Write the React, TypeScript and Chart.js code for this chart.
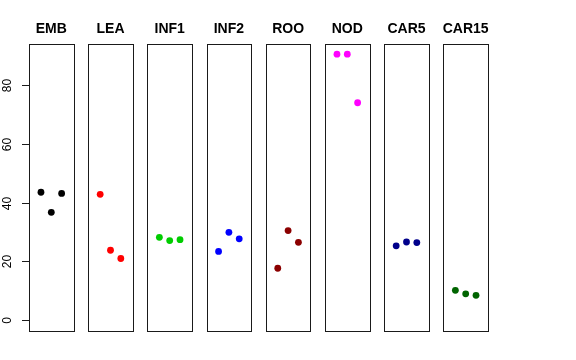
import React, { useEffect, useRef } from "react";
import { Chart, registerables } from "chart.js";

Chart.register(...registerables);

// ---- data ----
const panelNames = ["EMB", "LEA", "INF1", "INF2", "ROO", "NOD", "CAR5", "CAR15"];
const embValues = [43.5, 36.7, 43.1];
const leaValues = [42.8, 23.8, 21.0];
const inf1Values = [28.2, 27.1, 27.4];
const inf2Values = [23.4, 29.9, 27.7];
const rooValues = [17.7, 30.5, 26.5];
const nodValues = [90.4, 90.4, 73.9];
const car5Values = [25.3, 26.6, 26.4];
const car15Values = [10.2, 9.0, 8.5];
const panelValues = [embValues, leaValues, inf1Values, inf2Values, rooValues, nodValues, car5Values, car15Values];
const panelColors = ["#000000", "#FF0000", "#00CD00", "#0000FF", "#8B0000", "#FF00FF", "#00008B", "#006400"];
const yTickValues = [0, 20, 40, 60, 80];
const replicateX = [1, 2, 3];

// ---- layout ----
const W = 576;
const H = 360;
const PANEL_LEFT0 = 29;
const PANEL_STEP = 59.2;
const PANEL_WIDTH = 44.6;
const PANEL_TOP = 43.5;
const PANEL_BOTTOM = 331;
const FONT = "'Liberation Sans', Arial, Helvetica, sans-serif";

const allVals = panelValues.flat();
const yLo = 0;
const yHi = Math.max(...allVals);
const yExt = (yHi - yLo) * 0.04;
const xLo = 0;
const xHi = 4;
const xExt = (xHi - xLo) * 0.04;

function makePlugin(title: string, withAxis: boolean) {
  return {
    id: "panelDecor",
    afterDraw(chart: any) {
      const { ctx, chartArea } = chart;
      const l = Math.round(chartArea.left) + 0.5;
      const t = Math.round(chartArea.top) + 0.5;
      const r = Math.round(chartArea.right) + 0.5;
      const b = Math.round(chartArea.bottom) + 0.5;
      ctx.save();
      ctx.strokeStyle = "#1a1a1a";
      ctx.lineWidth = 1;
      ctx.strokeRect(l, t, r - l, b - t);
      ctx.fillStyle = "#000";
      ctx.font = `bold 14px ${FONT}`;
      ctx.textAlign = "center";
      ctx.textBaseline = "middle";
      ctx.fillText(title, (chartArea.left + chartArea.right) / 2, 29.5);
      if (withAxis) {
        const ys = chart.scales.y;
        ctx.font = `12px ${FONT}`;
        for (const v of yTickValues) {
          const py = Math.round(ys.getPixelForValue(v)) + 0.5;
          ctx.beginPath();
          ctx.moveTo(l - 7.5, py);
          ctx.lineTo(l, py);
          ctx.stroke();
          ctx.save();
          ctx.translate(8, py);
          ctx.rotate(-Math.PI / 2);
          ctx.textAlign = "center";
          ctx.textBaseline = "middle";
          ctx.fillText(String(v), 0, 0);
          ctx.restore();
        }
      }
      ctx.restore();
    },
  };
}

function Panel({ index }: { index: number }) {
  const ref = useRef<HTMLCanvasElement>(null);
  useEffect(() => {
    if (!ref.current) return;
    const left = PANEL_LEFT0 + PANEL_STEP * index;
    const right = left + PANEL_WIDTH;
    const chart = new Chart(ref.current, {
      type: "scatter",
      data: {
        datasets: [
          {
            data: panelValues[index].map((v, j) => ({ x: replicateX[j], y: v })),
            backgroundColor: panelColors[index],
            borderColor: panelColors[index],
            pointRadius: 3.4,
            pointHoverRadius: 3.4,
            borderWidth: 0,
          },
        ],
      },
      options: {
        responsive: false,
        animation: false,
        events: [],
        layout: {
          padding: { left, right: W - right, top: PANEL_TOP, bottom: H - PANEL_BOTTOM },
        },
        scales: {
          x: { type: "linear", min: xLo - xExt, max: xHi + xExt, display: false },
          y: { type: "linear", min: yLo - yExt, max: yHi + yExt, display: false },
        },
        plugins: { legend: { display: false }, tooltip: { enabled: false }, title: { display: false } },
      },
      plugins: [makePlugin(panelNames[index], index === 0)],
    });
    return () => chart.destroy();
  }, [index]);
  return (
    <canvas
      ref={ref}
      width={W}
      height={H}
      style={{ position: "absolute", left: 0, top: 0, width: W, height: H }}
    />
  );
}

export default function App() {
  return (
    <div style={{ position: "fixed", left: 0, top: 0, width: W, height: H, background: "#fff" }}>
      {panelNames.map((_, i) => (
        <Panel key={i} index={i} />
      ))}
    </div>
  );
}
